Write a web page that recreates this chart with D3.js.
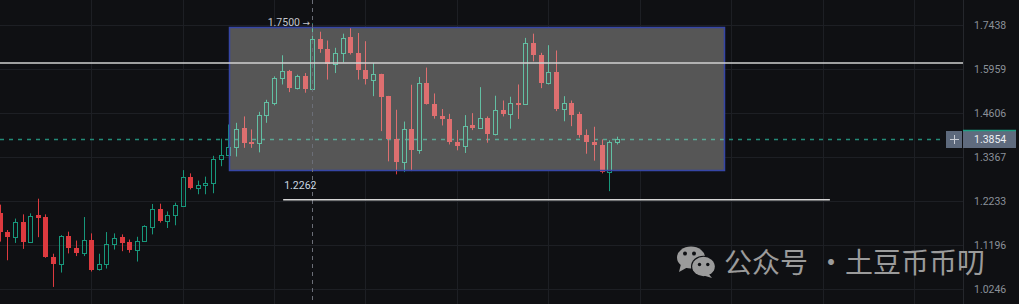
<!DOCTYPE html>
<html><head><meta charset="utf-8">
<script src="https://cdn.jsdelivr.net/npm/d3@7"></script>
<style>html,body{margin:0;padding:0;background:#0f1013;overflow:hidden}</style>
</head><body><svg id="c" width="1019" height="304"></svg>
<script>
const open=[1.1927,1.1486,1.1368,1.1731,1.1260,1.1879,1.1832,1.0922,1.0764,1.1392,
1.1131,1.1008,1.1314,1.0671,1.0764,1.1212,1.1361,1.1250,1.1088,1.1283,
1.1613,1.2021,1.1745,1.1879,1.2115,1.2844,1.2560,1.2627,1.2671,1.3308,
1.3415,1.3629,1.4155,1.3761,1.3733,1.4541,1.4904,1.5661,1.5888,1.5366,
1.5744,1.5313,1.6957,1.6598,1.6117,1.6487,1.7025,1.6487,1.5928,1.5621,
1.5796,1.5107,1.3846,1.3220,1.4127,1.3544,1.5519,1.4874,1.4522,1.4429,
1.3781,1.3657,1.4240,1.4164,1.4457,1.4006,1.4698,1.4586,1.4904,1.4861,
1.6823,1.6406,1.5507,1.5867,1.4708,1.4892,1.4578,1.3978,1.3781,1.3696,
1.2962,1.3770];
const high=[1.2139,1.1533,1.1802,1.1903,1.1927,1.2285,1.1903,1.0995,1.1415,1.1495,
1.1290,1.1839,1.1455,1.0995,1.1486,1.1455,1.1432,1.1314,1.1377,1.1644,
1.2155,1.2162,1.1974,1.2186,1.3014,1.2929,1.2741,1.2844,1.3395,1.3865,
1.4268,1.4316,1.4502,1.4127,1.4637,1.4997,1.5722,1.6406,1.5928,1.5774,
1.5827,1.7500,1.7203,1.6900,1.6655,1.7136,1.7361,1.7159,1.6877,1.6151,
1.5805,1.5115,1.4698,1.4353,1.5458,1.5704,1.6003,1.5190,1.4720,1.4578,
1.4108,1.4541,1.4598,1.5384,1.4502,1.5120,1.4975,1.5089,1.5467,1.6991,
1.7136,1.6487,1.6742,1.6564,1.5107,1.4975,1.4637,1.4127,1.4203,1.3846,
1.3818,1.3922];
const low=[1.1267,1.0851,1.1236,1.1103,1.1236,1.1368,1.0905,1.0283,1.0585,1.1002,
1.0943,1.0943,1.0607,1.0628,1.0671,1.1088,1.1051,1.1017,1.0823,1.1270,
1.1432,1.1707,1.1580,1.1644,1.2100,1.2517,1.2396,1.2396,1.2421,1.3117,
1.3395,1.3375,1.3612,1.3612,1.3488,1.4316,1.4831,1.5467,1.5230,1.5313,
1.5212,1.5298,1.6487,1.5621,1.5827,1.6171,1.6430,1.5621,1.5467,1.5107,
1.4079,1.3246,1.2903,1.2962,1.2988,1.3451,1.4852,1.4437,1.4240,1.3705,
1.3544,1.3471,1.4108,1.4155,1.3753,1.3958,1.4502,1.4147,1.4429,1.4843,
1.6205,1.5353,1.5467,1.4658,1.4361,1.4220,1.3894,1.3451,1.3264,1.2929,
1.2473,1.3705];
const close=[1.1479,1.1368,1.1731,1.1260,1.1872,1.1816,1.0915,1.0764,1.1392,1.1116,
1.1008,1.1314,1.0641,1.0771,1.1220,1.1354,1.1243,1.1088,1.1274,1.1620,
1.2021,1.1738,1.1896,1.2122,1.2844,1.2542,1.2638,1.2689,1.3315,1.3415,
1.3640,1.4147,1.3742,1.3713,1.4541,1.4935,1.5673,1.5888,1.5366,1.5722,
1.5313,1.6957,1.6598,1.6104,1.6487,1.6991,1.6487,1.5928,1.5642,1.5796,
1.5077,1.3865,1.3220,1.4127,1.3544,1.5519,1.4874,1.4502,1.4429,1.3770,
1.3657,1.4231,1.4164,1.4457,1.3987,1.4698,1.4586,1.4892,1.4852,1.6823,
1.6406,1.5507,1.5858,1.4708,1.4892,1.4558,1.3967,1.3770,1.3696,1.2962,
1.3770,1.3854];
const yTicks=[1.7438,1.5959,1.4606,1.3367,1.2233,1.1196,1.0246];
const gridBars=[12,24,36,48,60,72,84,96,108,120];
const lastPrice=1.3854;
const highMark=1.7500, highMarkBar=41;
const resistance=1.6151;
const support=1.2262, supportFrom=37.2, supportTo=108.95;
const boxTop=1.7370, boxBottom=1.3024, boxFrom=30.1, boxTo=95.05;
const watermark=["公众号","·","土豆币币叨"];

const W=1019,H=304,plotRight=963;
const svg=d3.select('#c');
svg.append('rect').attr('width',W).attr('height',H).attr('fill','#0f1013');
const x=d3.scaleLinear().domain([0,120]).range([-0.3,914.1]);
const y=d3.scaleLog().domain([1.0246,1.7438]).range([288.7,25]);
const N=close.length;
const font='Roboto, "Liberation Sans", sans-serif';

// grid
const grid=svg.append('g').attr('stroke','#1d1f24').attr('stroke-width',1);
grid.selectAll('line.h').data(yTicks).join('line').attr('class','h')
  .attr('x1',0).attr('x2',plotRight).attr('y1',d=>Math.round(y(d))+0.5).attr('y2',d=>Math.round(y(d))+0.5);
grid.selectAll('line.v').data(gridBars).join('line').attr('class','v')
  .attr('y1',0).attr('y2',H).attr('x1',d=>Math.round(x(d))+0.5).attr('x2',d=>Math.round(x(d))+0.5);

function drawCandles(g,upC,dnC,priceC){
  g.append('line').attr('x1',0).attr('x2',945)
    .attr('y1',Math.round(y(lastPrice))+0.5).attr('y2',Math.round(y(lastPrice))+0.5)
    .attr('stroke',priceC).attr('stroke-width',1.5).attr('stroke-dasharray','4,5');
  const k=g.selectAll('g.k').data(d3.range(N)).join('g').attr('class','k');
  k.each(function(i){
    const s=d3.select(this);
    const cx=Math.round(x(i));
    const wx=cx+0.5;
    const up=close[i]>=open[i];
    const yH=y(high[i]), yL=y(low[i]);
    if(up){
      const t=Math.round(y(close[i]))+0.5, b=Math.round(y(open[i]))+0.5;
      s.append('line').attr('x1',wx).attr('x2',wx).attr('y1',yH).attr('y2',t).attr('stroke',upC);
      s.append('line').attr('x1',wx).attr('x2',wx).attr('y1',b).attr('y2',yL).attr('stroke',upC);
      s.append('rect').attr('x',cx-1.5).attr('width',4).attr('y',t).attr('height',Math.max(0.5,b-t))
        .attr('fill','none').attr('stroke',upC).attr('stroke-width',1);
    } else {
      const t=Math.round(y(open[i])), b=Math.round(y(close[i]));
      s.append('line').attr('x1',wx).attr('x2',wx).attr('y1',yH).attr('y2',yL).attr('stroke',dnC);
      s.append('rect').attr('x',cx-2).attr('width',5).attr('y',t).attr('height',Math.max(1,b-t)).attr('fill',dnC);
    }
  });
}
drawCandles(svg.append('g'),'#17977b','#dd3a3f','#238a78');

// box
const bx0=Math.round(x(boxFrom))+0.5, bx1=Math.round(x(boxTo))+0.5;
const by0=Math.round(y(boxTop))+0.5, by1=Math.round(y(boxBottom))+0.5;
svg.append('rect').attr('x',bx0).attr('y',by0).attr('width',bx1-bx0).attr('height',by1-by0).attr('fill','#565656');
svg.append('clipPath').attr('id','bc').append('rect').attr('x',bx0).attr('y',by0).attr('width',bx1-bx0).attr('height',by1-by0);
drawCandles(svg.append('g').attr('clip-path','url(#bc)'),'#62bfa3','#de6f70','#5aa895');
svg.append('rect').attr('x',bx0).attr('y',by0).attr('width',bx1-bx0).attr('height',by1-by0)
  .attr('fill','none').attr('stroke','#3646a6').attr('stroke-width',1.5);

// crosshair
svg.append('line').attr('x1',Math.round(x(highMarkBar))+0.5).attr('x2',Math.round(x(highMarkBar))+0.5)
  .attr('y1',0).attr('y2',H).attr('stroke','#6b6e77').attr('stroke-width',1).attr('stroke-dasharray','4,4');

// resistance & support lines
svg.append('line').attr('x1',0).attr('x2',plotRight).attr('y1',y(resistance)).attr('y2',y(resistance))
  .attr('stroke','#d2d2d2').attr('stroke-width',1.5);
svg.append('line').attr('x1',x(supportFrom)).attr('x2',x(supportTo)).attr('y1',y(support)).attr('y2',y(support))
  .attr('stroke','#d6d6d6').attr('stroke-width',1.5);
svg.append('text').attr('x',x(supportFrom)+1).attr('y',y(support)-11).text(d3.format('.4f')(support))
  .attr('fill','#cbd8e2').style('font-family',font).style('font-size','10.5px');
const hm=svg.append('text').attr('x',x(highMarkBar)-2).attr('y',y(highMark)+3).attr('text-anchor','end')
  .attr('fill','#c3c6cd').style('font-family',font).style('font-size','10.5px');
hm.append('tspan').text(d3.format('.4f')(highMark)+' ');
hm.append('tspan').style('font-family','"DejaVu Sans", sans-serif').style('font-size','9px').text('→');

// axis
svg.append('line').attr('x1',plotRight+0.5).attr('x2',plotRight+0.5).attr('y1',0).attr('y2',H).attr('stroke','#25272c');
const axis=d3.axisRight(y).tickValues(yTicks).tickFormat(d3.format('.4f')).tickSize(0).tickPadding(11);
const ag=svg.append('g').attr('transform',`translate(${plotRight},0)`).call(axis);
ag.select('.domain').remove();
ag.selectAll('text').attr('fill','#8b9099').style('font-family',font).style('font-size','10.5px');

// price label
const py=Math.round(y(lastPrice));
svg.append('rect').attr('x',946).attr('y',py-8).attr('width',16).attr('height',17).attr('fill','#5d697c');
svg.append('line').attr('x1',950).attr('x2',959).attr('y1',py+0.5).attr('y2',py+0.5).attr('stroke','#c9cdd5');
svg.append('line').attr('x1',954.5).attr('x2',954.5).attr('y1',py-4).attr('y2',py+5).attr('stroke','#c9cdd5');
svg.append('rect').attr('x',plotRight).attr('y',py-9).attr('width',53).attr('height',18).attr('fill','#5f6b7e');
svg.append('line').attr('x1',plotRight).attr('x2',plotRight+53).attr('y1',py-8.5).attr('y2',py-8.5).attr('stroke','#1f9c82').attr('stroke-width',1.5);
svg.append('text').attr('x',plotRight+11).attr('y',py+4).text(d3.format('.4f')(lastPrice))
  .attr('fill','#eef0f4').style('font-family',font).style('font-size','10.5px');

// watermark
const wm=svg.append('g');
wm.append('ellipse').attr('cx',691).attr('cy',257.5).attr('rx',14).attr('ry',11).attr('fill','#9b9b9b');
wm.append('path').attr('d','M681,264 L679,272 L688,267 Z').attr('fill','#9b9b9b');
wm.append('ellipse').attr('cx',703.5).attr('cy',266.5).attr('rx',12.5).attr('ry',10.8).attr('fill','#0f1013');
wm.append('ellipse').attr('cx',703.5).attr('cy',266.5).attr('rx',11.3).attr('ry',9.7).attr('fill','#9b9b9b');
wm.append('path').attr('d','M708,273 L712,278 L702,275 Z').attr('fill','#9b9b9b');
[[685,253.5,2],[694,253.5,2],[699.5,264.5,1.7],[707.8,264.5,1.7]].forEach(d=>
  wm.append('circle').attr('cx',d[0]).attr('cy',d[1]).attr('r',d[2]).attr('fill','#0f1013'));
const wt=wm.append('text').attr('y',273).attr('fill','#9b9b9b')
  .style('font-family','"Noto Sans CJK SC", sans-serif').style('font-size','28px');
wt.append('tspan').attr('x',724).text(watermark[0]);
wt.append('tspan').attr('x',831).attr('text-anchor','middle').text(watermark[1]);
wt.append('tspan').attr('x',845).attr('text-anchor','start').text(watermark[2]);
</script></body></html>
